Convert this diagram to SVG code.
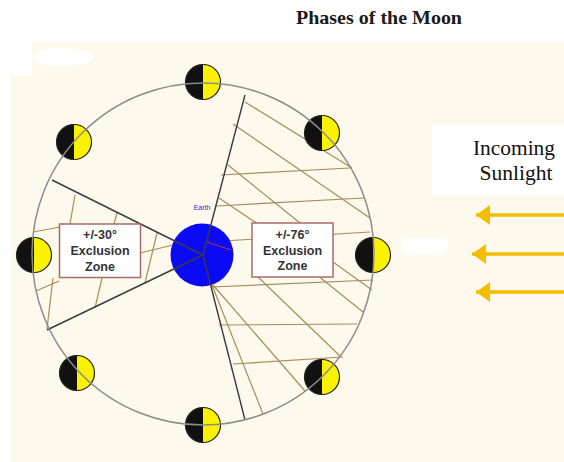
<svg xmlns="http://www.w3.org/2000/svg" xmlns:xlink="http://www.w3.org/1999/xlink" width="564" height="462" viewBox="0 0 564 462">
<style>
.hatch{stroke:#a88c5c;stroke-width:1.2;fill:none}
.bound{stroke:#3a3a44;stroke-width:1.4;fill:none}
.orbit{stroke:#8c8c8c;stroke-width:1.5;fill:none}
.zbox{fill:#ffffff;stroke:#a86b6b;stroke-width:1.5}
.ztxt{font-family:"Liberation Sans",Arial,sans-serif;font-weight:bold;font-size:12.5px;fill:#333333;text-anchor:middle}
.sun{stroke:#f5bd00;stroke-width:3.5;marker-end:url(#ah)}
.stxt{font-family:"Liberation Serif","Times New Roman",serif;font-size:21px;fill:#111111;text-anchor:middle}
</style>
<defs>
<marker id="ah" markerWidth="15" markerHeight="20" refX="14" refY="10" orient="auto" markerUnits="userSpaceOnUse">
<path d="M0,0 L14,10 L0,20 Z" fill="#f5bd00"/>
</marker>
<g id="moon">
<path d="M0,-17.5 A17.5,17.5 0 0 0 0,17.5 Z" fill="#111111"/>
<path d="M0,-17.5 A17.5,17.5 0 0 1 0,17.5 Z" fill="#fbf200"/>
<circle r="17.5" fill="none" stroke="#222222" stroke-width="1.2"/>
</g>
</defs>
<rect width="564" height="462" fill="#ffffff"/>
<path d="M32,42 H564 V462 H11 V76 H32 Z" fill="#fdf9ed"/>
<ellipse cx="63" cy="57" rx="30" ry="9" fill="#ffffff"/>
<rect x="401" y="238" width="47" height="17" rx="6" fill="#ffffff"/>
<text x="379" y="24" font-family="'Liberation Serif','Times New Roman',serif" font-weight="bold" font-size="19" fill="#1a1a1a" text-anchor="middle" textLength="166" lengthAdjust="spacingAndGlyphs">Phases of the Moon</text>

<g id="connectors">
<g id="left-hatch">
<line class="hatch" x1="33" y1="232" x2="60" y2="227"/>
<line class="hatch" x1="75" y1="195" x2="70" y2="224"/>
<line class="hatch" x1="117" y1="213" x2="114" y2="224"/>
<line class="hatch" x1="140" y1="253" x2="173" y2="245"/>
<line class="hatch" x1="157" y1="233" x2="145" y2="283"/>
<line class="hatch" x1="36" y1="291" x2="59" y2="281"/>
<line class="hatch" x1="53" y1="278" x2="47" y2="329"/>
<line class="hatch" x1="102" y1="278" x2="95" y2="308"/>
</g>
<g id="right-hatch">
<line class="hatch" x1="221" y1="175" x2="350" y2="168"/>
<line class="hatch" x1="216" y1="206" x2="364" y2="198"/>
<line class="hatch" x1="223" y1="241" x2="370" y2="232"/>
<line class="hatch" x1="211" y1="287" x2="373" y2="280"/>
<line class="hatch" x1="219" y1="325" x2="357" y2="324"/>
<line class="hatch" x1="233" y1="364" x2="343" y2="357"/>
<line class="hatch" x1="245" y1="102" x2="352" y2="168"/>
<line class="hatch" x1="233" y1="124" x2="370" y2="218"/>
<line class="hatch" x1="228" y1="165" x2="300" y2="223"/>
<line class="hatch" x1="219" y1="198" x2="258" y2="224"/>
<line class="hatch" x1="333" y1="262" x2="372" y2="290"/>
<line class="hatch" x1="213" y1="285" x2="305" y2="391"/>
<line class="hatch" x1="258" y1="277" x2="340" y2="356"/>
<line class="hatch" x1="317" y1="275" x2="363" y2="312"/>
<line class="hatch" x1="212" y1="285" x2="263" y2="414"/>
</g>
</g>

<g id="earth">
<circle cx="202" cy="255" r="31.5" fill="#0a0af5"/>
<line x1="207" y1="242" x2="231" y2="250" stroke="#c03040" stroke-width="1"/>
<text x="202" y="210" font-family="'Liberation Sans',Arial,sans-serif" font-size="7" fill="#2a2ad0" text-anchor="middle">Earth</text>
</g>

<g id="boundaries">
<line class="bound" x1="52" y1="180" x2="203" y2="255"/>
<line class="bound" x1="47" y1="330" x2="203" y2="255"/>
<line class="bound" x1="245" y1="95" x2="203" y2="255"/>
<line class="bound" x1="203" y1="255" x2="245" y2="420"/>
</g>

<g id="zone-30">
<rect class="zbox" x="59.5" y="224" width="81" height="53.5"/>
<text class="ztxt" x="100" y="239">+/-30°</text>
<text class="ztxt" x="100" y="255">Exclusion</text>
<text class="ztxt" x="100" y="271">Zone</text>
</g>
<g id="zone-76">
<rect class="zbox" x="252" y="223" width="81" height="54"/>
<text class="ztxt" x="292.5" y="239">+/-76°</text>
<text class="ztxt" x="292.5" y="255">Exclusion</text>
<text class="ztxt" x="292.5" y="270">Zone</text>
</g>

<g id="moon-top"><use xlink:href="#moon" x="203" y="82"/></g>
<g id="moon-top-right"><use xlink:href="#moon" x="322" y="133"/></g>
<g id="moon-right"><use xlink:href="#moon" x="373" y="255"/></g>
<g id="moon-bottom-right"><use xlink:href="#moon" x="322" y="377"/></g>
<g id="moon-bottom"><use xlink:href="#moon" x="203" y="425"/></g>
<g id="moon-bottom-left"><use xlink:href="#moon" x="77" y="373"/></g>
<g id="moon-left"><use xlink:href="#moon" x="34" y="255"/></g>
<g id="moon-top-left"><use xlink:href="#moon" x="74" y="142"/></g>

<circle class="orbit" cx="203" cy="254" r="171"/>

<g id="sunlight">
<rect x="432" y="125" width="132" height="70" fill="#ffffff"/>
<text class="stxt" x="514" y="155" textLength="82" lengthAdjust="spacingAndGlyphs">Incoming</text>
<text class="stxt" x="516" y="180" textLength="73" lengthAdjust="spacingAndGlyphs">Sunlight</text>
<line class="sun" x1="564" y1="215" x2="476" y2="215"/>
<line class="sun" x1="564" y1="254" x2="472" y2="254"/>
<line class="sun" x1="564" y1="292" x2="476" y2="292"/>
</g>
</svg>
